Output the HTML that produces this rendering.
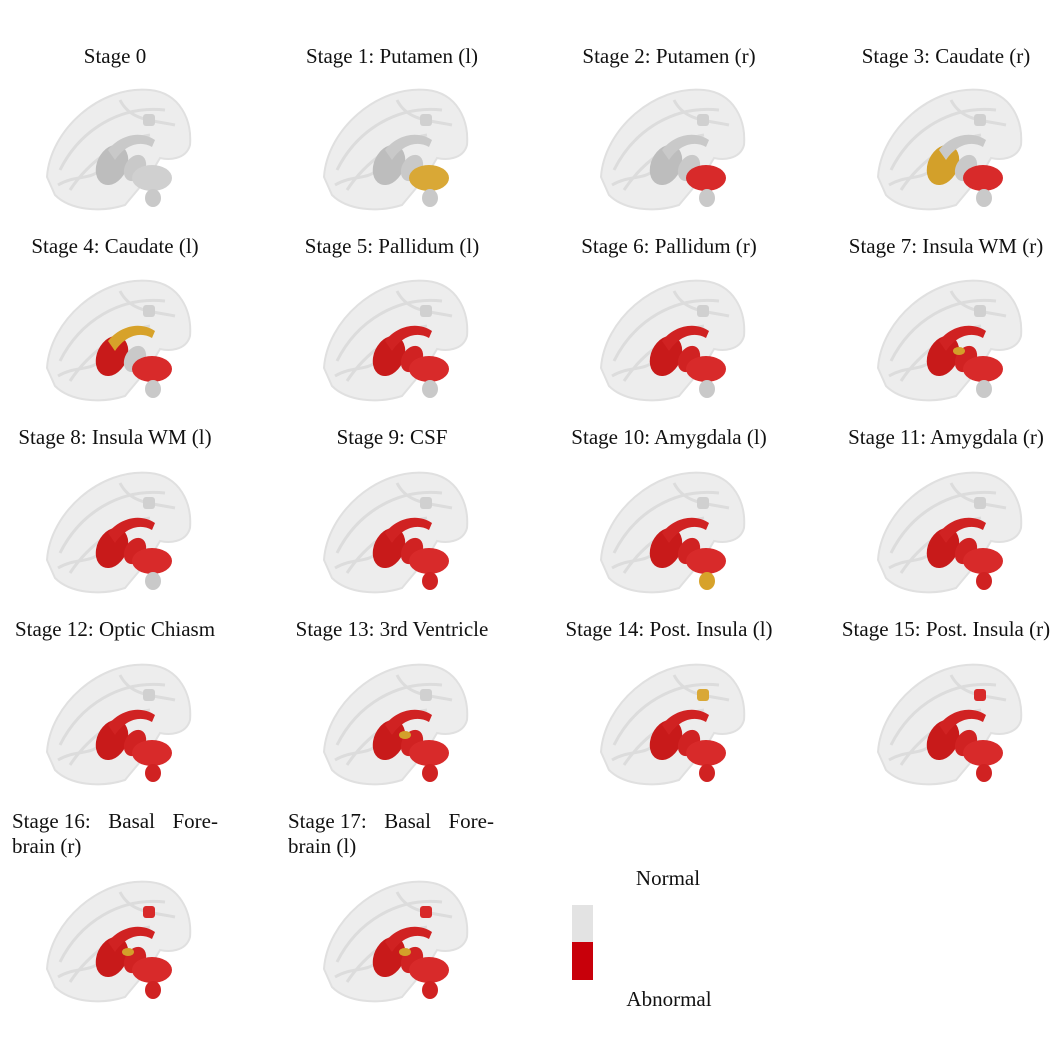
<!DOCTYPE html>
<html><head><meta charset="utf-8"><style>
html,body{margin:0;padding:0;background:#fff;}
body{width:1050px;height:1042px;position:relative;overflow:hidden;font-family:"Liberation Serif",serif;color:#111;}
.t{position:absolute;font-size:21px;white-space:nowrap;transform:translateX(-50%);}
.t2{position:absolute;font-size:21px;width:206px;line-height:25px;}
.l1{display:flex;justify-content:space-between;}
svg{position:absolute;left:0;top:0;}
</style></head><body>
<svg id="s" width="1050" height="1042"></svg>
<div id="lab"></div>
<script>
const titles=["Stage 0","Stage 1: Putamen (l)","Stage 2: Putamen (r)","Stage 3: Caudate (r)","Stage 4: Caudate (l)","Stage 5: Pallidum (l)","Stage 6: Pallidum (r)","Stage 7: Insula WM (r)","Stage 8: Insula WM (l)","Stage 9: CSF","Stage 10: Amygdala (l)","Stage 11: Amygdala (r)","Stage 12: Optic Chiasm","Stage 13: 3rd Ventricle","Stage 14: Post. Insula (l)","Stage 15: Post. Insula (r)","Stage 16: Basal Fore-|brain (r)","Stage 17: Basal Fore-|brain (l)"];
// region states per stage: [lowerBlob, putamenBody, caudateArc, thalamus, topCube, brainstem, accent]
const states=[
[0,0,0,0,0,0,0],[1,0,0,0,0,0,0],[2,0,0,0,0,0,0],[2,1,0,0,0,0,0],
[2,2,1,0,0,0,0],[2,2,2,2,0,0,0],[2,2,2,2,0,0,0],[2,2,2,2,0,0,1],
[2,2,2,2,0,0,0],[2,2,2,2,0,2,0],[2,2,2,2,0,1,0],[2,2,2,2,0,2,0],
[2,2,2,2,0,2,0],[2,2,2,2,0,2,1],[2,2,2,2,1,2,0],[2,2,2,2,2,2,0],
[2,2,2,2,2,2,1],[2,2,2,2,2,2,1]];
const colX=[115,392,669,946];
const titleY=[57,247,438,630];
const brainTop=[88,279,471,663,880];
const col=[["#c9c9c9","#d7a22a","#d02222"],["#bdbdbd","#d3a02a","#c81a1a"],["#d0d0d0","#d9a836","#d82a2a"]];
const NS="http://www.w3.org/2000/svg";
const svg=document.getElementById('s');
const lab=document.getElementById('lab');
function mk(tag,attrs,parent){const e=document.createElementNS(NS,tag);for(const k in attrs)e.setAttribute(k,attrs[k]);parent.appendChild(e);return e;}
titles.forEach((tt,i)=>{
  const r=Math.floor(i/4),c=i%4;
  const d=document.createElement('div');
  
  
  if(r<4){d.className='t';d.style.left=colX[c]+'px';d.style.top=(titleY[r]-13)+'px';d.textContent=tt;}
  else{
    d.className='t2';d.style.left=(c===0?12:288)+'px';d.style.top='809px';
    const parts=tt.split('|');
    const l1=document.createElement('div');l1.className='l1';
    parts[0].split(/(?<=:) /).forEach(()=>{});
    ['Stage '+parts[0].split(' ')[1],'Basal','Fore-'].forEach(w=>{const sp=document.createElement('span');sp.textContent=w;l1.appendChild(sp);});
    const l2=document.createElement('div');l2.textContent=parts[1];
    d.appendChild(l1);d.appendChild(l2);
  }
  lab.appendChild(d);
  const g=mk('g',{transform:`translate(${colX[c]-115},${brainTop[r]-88})`},svg);
  
  
  mk('path',{d:"M47 177 C50 130 100 85 150 90 C180 93 192 120 190 145 C186 160 168 160 160 158 L150 175 L125 205 C100 213 70 210 55 195 Z",fill:"#ededed",stroke:"#e0e0e0","stroke-width":2},g);
  mk('path',{d:"M60 170 C80 130 120 105 165 110 M70 190 C90 160 120 140 150 135 M120 100 C130 120 150 120 175 125 M58 185 C75 175 90 180 100 170",fill:"none",stroke:"#dcdcdc","stroke-width":3},g);
  const s=states[i];
  const f=(k,v)=>col[k][s[v]];
  mk('ellipse',{cx:112,cy:165,rx:15,ry:21,transform:"rotate(25 112 165)",fill:f(1,1)},g);
  mk('path',{d:"M108 150 C120 135 140 130 155 140 L152 147 C140 140 125 145 115 160 Z",fill:f(0,2)},g);
  mk('ellipse',{cx:135,cy:168,rx:10,ry:14,transform:"rotate(30 135 168)",fill:f(0,3)},g);
  mk('rect',{x:143,y:114,width:12,height:12,rx:3,fill:f(2,4)},g);
  mk('ellipse',{cx:152,cy:178,rx:20,ry:13,fill:f(2,0)},g);
  mk('ellipse',{cx:153,cy:198,rx:8,ry:9,fill:f(0,5)},g);
  if(s[6]) mk('ellipse',{cx:128,cy:160,rx:6,ry:4,fill:col[1][1]},g);
});
const lg=mk('rect',{x:572,y:905,width:21,height:38,fill:"#e3e3e3"},svg);


const lr=mk('rect',{x:572,y:942,width:21,height:38,fill:"#c8000a"},svg);


</script>
<div class="t" style="left:668px;top:866px">Normal</div>
<div class="t" style="left:669px;top:987px">Abnormal</div>
</body></html>
